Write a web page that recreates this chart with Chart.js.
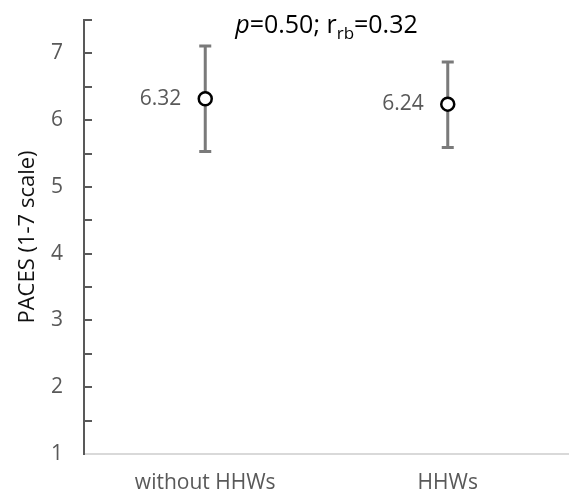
<!DOCTYPE html>
<html>
<head>
<meta charset="utf-8">
<script src="https://cdn.jsdelivr.net/npm/chart.js@4.4.1/dist/chart.umd.min.js"></script>
<style>
  body { margin: 0; background: #fff; overflow: hidden; }
  #wrap { width: 569px; height: 495px; }
  canvas { display: block; }
</style>
</head>
<body>
<div id="wrap"><canvas id="myChart"></canvas></div>
<script>
// data
var categories = ['without HHWs', 'HHWs'];
var means = [6.32, 6.24];
var ciLow = [5.53, 5.59];
var ciHigh = [7.11, 6.87];
var yTickLabels = [1, 2, 3, 4, 5, 6, 7];

var FONT = "'Open Sans', 'Noto Sans', sans-serif";
var GREY = '#595959';

// error bars, drawn under the circles
var errorBars = {
    id: 'errorBars',
    beforeDatasetsDraw: function (chart) {
        var ctx = chart.ctx;
        var y = chart.scales.y;
        var meta = chart.getDatasetMeta(0);
        ctx.save();
        ctx.strokeStyle = '#7a7a7a';
        ctx.lineWidth = 3;
        meta.data.forEach(function (pt, i) {
            var top = y.getPixelForValue(ciHigh[i]);
            var bot = y.getPixelForValue(ciLow[i]);
            ctx.beginPath();
            ctx.moveTo(pt.x, top);
            ctx.lineTo(pt.x, bot);
            ctx.moveTo(pt.x - 6, top);
            ctx.lineTo(pt.x + 6, top);
            ctx.moveTo(pt.x - 6, bot);
            ctx.lineTo(pt.x + 6, bot);
            ctx.stroke();
        });
        ctx.restore();
    }
};

// labels, inside ticks and the p / r_rb note
var extras = {
    id: 'extras',
    afterDraw: function (chart) {
        var ctx = chart.ctx;
        var y = chart.scales.y;
        var area = chart.chartArea;
        ctx.save();

        // tick marks pointing into the plot
        ctx.strokeStyle = GREY;
        ctx.lineWidth = 2;
        y.ticks.forEach(function (t) {
            if (t.value <= y.min) return;
            var py = Math.round(y.getPixelForValue(t.value));
            ctx.beginPath();
            ctx.moveTo(area.left, py);
            ctx.lineTo(area.left + 8, py);
            ctx.stroke();
        });

        // value labels left of the points
        var meta = chart.getDatasetMeta(0);
        ctx.fillStyle = GREY;
        ctx.font = '21px ' + FONT;
        ctx.textAlign = 'right';
        ctx.textBaseline = 'middle';
        meta.data.forEach(function (pt, i) {
            ctx.fillText(means[i].toFixed(2), pt.x - 24, pt.y);
        });

        // note above the plot
        var parts = [
            { t: 'p', f: 'italic 25px ' + FONT, dy: 0 },
            { t: '=0.50; r', f: '25px ' + FONT, dy: 0 },
            { t: 'rb', f: '17px ' + FONT, dy: 6 },
            { t: '=0.32', f: '25px ' + FONT, dy: 0 }
        ];
        var total = 0;
        parts.forEach(function (p) {
            ctx.font = p.f;
            p.w = ctx.measureText(p.t).width;
            total += p.w;
        });
        var x = (area.left + area.right) / 2 - total / 2;
        var base = 33;
        ctx.fillStyle = '#000';
        ctx.textAlign = 'left';
        ctx.textBaseline = 'alphabetic';
        parts.forEach(function (p) {
            ctx.font = p.f;
            ctx.fillText(p.t, x, base + p.dy);
            x += p.w;
        });
        ctx.restore();
    }
};

var ctx = document.getElementById('myChart').getContext('2d');
var myChart = new Chart(ctx, {
    type: 'line',
    data: {
        labels: categories,
        datasets: [{
            data: means,
            showLine: false,
            pointRadius: 6.5,
            pointBorderWidth: 2.5,
            pointBorderColor: '#000',
            pointBackgroundColor: '#fff'
        }]
    },
    plugins: [errorBars, extras],
    options: {
        responsive: true,
        maintainAspectRatio: false,
        animation: false,
        layout: { autoPadding: false, padding: { top: 20, right: 0, left: 0, bottom: 0 } },
        plugins: {
            legend: { display: false },
            tooltip: { enabled: false }
        },
        scales: {
            x: {
                offset: true,
                grid: { drawOnChartArea: false, drawTicks: false },
                border: { color: '#d9d9d9', width: 2 },
                ticks: {
                    padding: 16,
                    color: GREY,
                    font: { family: FONT, size: 21 }
                },
                afterFit: function (scale) {
                    scale.height = 41;
                    scale.paddingLeft = 0;
                    scale.paddingRight = 0;
                }
            },
            y: {
                min: 1,
                max: 7.5,
                grid: { drawOnChartArea: false, drawTicks: false },
                border: { color: GREY, width: 2 },
                ticks: {
                    stepSize: 0.5,
                    padding: 21,
                    color: GREY,
                    font: { family: FONT, size: 21 },
                    callback: function (v) {
                        return yTickLabels.indexOf(v) >= 0 ? String(v) : '';
                    }
                },
                title: {
                    display: true,
                    text: 'PACES (1-7 scale)',
                    color: '#111',
                    font: { family: FONT, size: 22 },
                    padding: { top: 15, bottom: 0 }
                },
                afterFit: function (scale) {
                    scale.width = 84;
                    scale.paddingTop = 0;
                    scale.paddingBottom = 0;
                }
            }
        }
    }
});
</script>
</body>
</html>
